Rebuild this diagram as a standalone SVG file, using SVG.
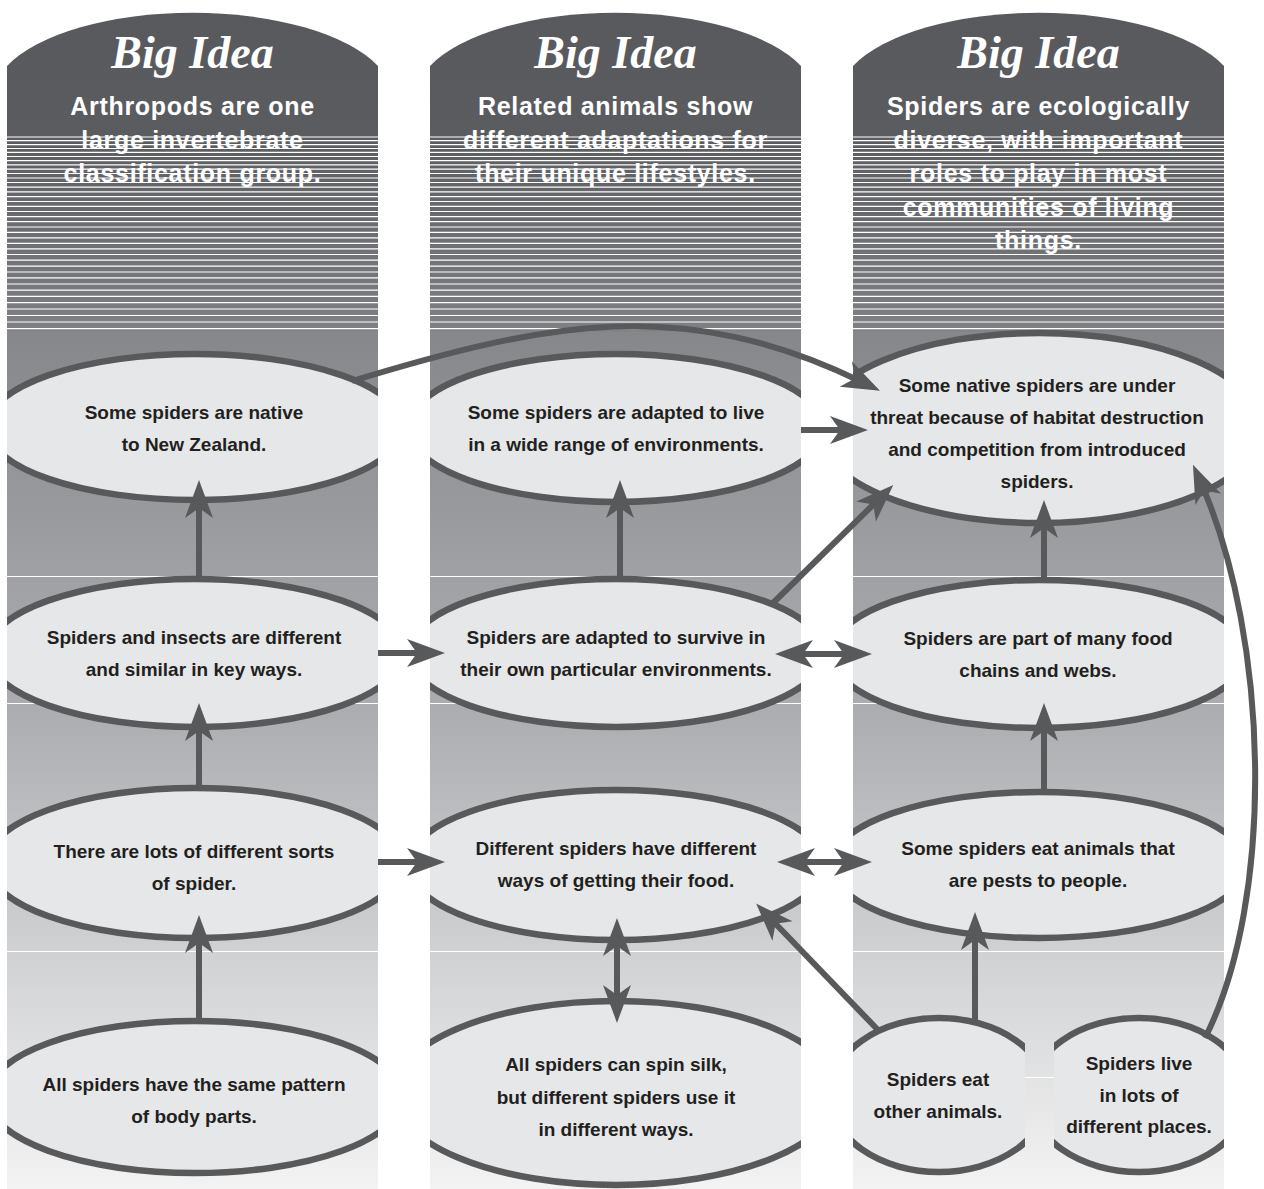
<svg xmlns="http://www.w3.org/2000/svg" xmlns:xlink="http://www.w3.org/1999/xlink" width="1264" height="1189" viewBox="0 0 1264 1189">
<style>
.col{fill:url(#colgrad)}
.band{stroke:#ffffff;stroke-width:1.2}
.bi{font-family:"Liberation Serif",serif;font-style:italic;font-weight:bold;font-size:46px;fill:#ffffff;text-anchor:middle}
.sub{font-family:"Liberation Sans",Arial,sans-serif;font-weight:bold;font-size:25px;fill:#ffffff;text-anchor:middle;letter-spacing:0.7px}
.nd{fill:#e6e7e8;stroke:#58595b;stroke-width:6.5}
.tx{font-family:"Liberation Sans",Arial,sans-serif;font-weight:bold;font-size:19px;fill:#231f20;text-anchor:middle}
.cn{fill:none;stroke:#58595b;stroke-width:6}
</style>
<defs>
<linearGradient id="colgrad" gradientUnits="userSpaceOnUse" x1="0" y1="0" x2="0" y2="1189">
<stop offset="0" stop-color="#58595d"/>
<stop offset="0.1135" stop-color="#5b5c60"/>
<stop offset="0.2775" stop-color="#7f8084"/>
<stop offset="0.2795" stop-color="#86878b"/>
<stop offset="0.4844" stop-color="#a0a1a5"/>
<stop offset="0.5913" stop-color="#abacaf"/>
<stop offset="0.7998" stop-color="#d0d1d3"/>
<stop offset="1" stop-color="#f3f3f3"/>
</linearGradient>
<clipPath id="c1"><rect x="7" y="0" width="371" height="1189"/></clipPath>
<clipPath id="c2"><rect x="430" y="0" width="371" height="1189"/></clipPath>
<clipPath id="c3"><rect x="853" y="0" width="371" height="1189"/></clipPath>
<clipPath id="c3a"><rect x="853" y="940" width="172" height="249"/></clipPath>
<clipPath id="c3b"><rect x="1054" y="940" width="170" height="249"/></clipPath>
<marker id="ah" viewBox="-40 -16 42 32" markerWidth="42" markerHeight="32" refX="-20" refY="0" markerUnits="userSpaceOnUse" orient="auto-start-reverse">
<path d="M0,0 L-38,-14 L-28,0 L-38,14 Z" fill="#58595b"/>
</marker>
<g id="stripes" class="band">
<line x1="0" x2="371" y1="137" y2="137"/><line x1="0" x2="371" y1="140.7" y2="140.7"/><line x1="0" x2="371" y1="144.6" y2="144.6"/><line x1="0" x2="371" y1="148.5" y2="148.5"/><line x1="0" x2="371" y1="152.4" y2="152.4"/><line x1="0" x2="371" y1="156.5" y2="156.5"/><line x1="0" x2="371" y1="160.6" y2="160.6"/><line x1="0" x2="371" y1="164.9" y2="164.9"/><line x1="0" x2="371" y1="169.2" y2="169.2"/><line x1="0" x2="371" y1="173.5" y2="173.5"/><line x1="0" x2="371" y1="178" y2="178"/><line x1="0" x2="371" y1="182.5" y2="182.5"/><line x1="0" x2="371" y1="187.2" y2="187.2"/><line x1="0" x2="371" y1="191.9" y2="191.9"/><line x1="0" x2="371" y1="196.6" y2="196.6"/><line x1="0" x2="371" y1="201.5" y2="201.5"/><line x1="0" x2="371" y1="206.4" y2="206.4"/><line x1="0" x2="371" y1="211.5" y2="211.5"/><line x1="0" x2="371" y1="216.6" y2="216.6"/><line x1="0" x2="371" y1="221.7" y2="221.7"/><line x1="0" x2="371" y1="227" y2="227"/><line x1="0" x2="371" y1="232.3" y2="232.3"/><line x1="0" x2="371" y1="237.8" y2="237.8"/><line x1="0" x2="371" y1="243.3" y2="243.3"/><line x1="0" x2="371" y1="248.8" y2="248.8"/><line x1="0" x2="371" y1="254.5" y2="254.5"/><line x1="0" x2="371" y1="260.2" y2="260.2"/><line x1="0" x2="371" y1="266.1" y2="266.1"/><line x1="0" x2="371" y1="272" y2="272"/><line x1="0" x2="371" y1="277.9" y2="277.9"/><line x1="0" x2="371" y1="284" y2="284"/><line x1="0" x2="371" y1="290.1" y2="290.1"/><line x1="0" x2="371" y1="296.4" y2="296.4"/><line x1="0" x2="371" y1="302.7" y2="302.7"/><line x1="0" x2="371" y1="309" y2="309"/><line x1="0" x2="371" y1="315.5" y2="315.5"/><line x1="0" x2="371" y1="322" y2="322"/><line x1="0" x2="371" y1="328.7" y2="328.7"/>
<line x1="0" x2="371" y1="576.5" y2="576.5"/><line x1="0" x2="371" y1="703.5" y2="703.5"/><line x1="0" x2="371" y1="951.5" y2="951.5"/>
</g>
</defs>
<rect width="1264" height="1189" fill="#ffffff"/>
<g id="columns">
<path class="col" d="M7,1189 V66 A200,85 0 0 1 378,66 V1189 Z"/>
<path class="col" d="M430,1189 V66 A200,85 0 0 1 801,66 V1189 Z"/>
<path class="col" d="M853,1189 V66 A200,85 0 0 1 1224,66 V1189 Z"/>
<use xlink:href="#stripes" x="7"/>
<use xlink:href="#stripes" x="430"/>
<use xlink:href="#stripes" x="853"/>
<line class="band" x1="853" x2="1224" y1="1077.5" y2="1077.5"/>
</g>
<g id="header1">
<text class="bi" x="192.5" y="68">Big Idea</text>
<text class="sub" x="192.5" y="115">Arthropods are one</text>
<text class="sub" x="192.5" y="148.5">large invertebrate</text>
<text class="sub" x="192.5" y="182">classification group.</text>
</g>
<g id="header2">
<text class="bi" x="615.5" y="68">Big Idea</text>
<text class="sub" x="615.5" y="115">Related animals show</text>
<text class="sub" x="615.5" y="148.5">different adaptations for</text>
<text class="sub" x="615.5" y="182">their unique lifestyles.</text>
</g>
<g id="header3">
<text class="bi" x="1038.5" y="68">Big Idea</text>
<text class="sub" x="1038.5" y="115">Spiders are ecologically</text>
<text class="sub" x="1038.5" y="148.5">diverse, with important</text>
<text class="sub" x="1038.5" y="182">roles to play in most</text>
<text class="sub" x="1038.5" y="215.5">communities of living</text>
<text class="sub" x="1038.5" y="249">things.</text>
</g>
<g id="n-native">
<ellipse class="nd" clip-path="url(#c1)" cx="195" cy="427" rx="208" ry="73"/>
<text class="tx" x="194" y="419">Some spiders are native</text>
<text class="tx" x="194" y="451">to New Zealand.</text>
</g>
<g id="n-insects">
<ellipse class="nd" clip-path="url(#c1)" cx="195" cy="653" rx="208" ry="74"/>
<text class="tx" x="194" y="644">Spiders and insects are different</text>
<text class="tx" x="194" y="676">and similar in key ways.</text>
</g>
<g id="n-sorts">
<ellipse class="nd" clip-path="url(#c1)" cx="195" cy="863" rx="208" ry="75"/>
<text class="tx" x="194" y="858">There are lots of different sorts</text>
<text class="tx" x="194" y="890">of spider.</text>
</g>
<g id="n-bodyparts">
<ellipse class="nd" clip-path="url(#c1)" cx="195" cy="1097" rx="208" ry="76"/>
<text class="tx" x="194" y="1091">All spiders have the same pattern</text>
<text class="tx" x="194" y="1123">of body parts.</text>
</g>
<g id="n-range">
<ellipse class="nd" clip-path="url(#c2)" cx="616" cy="428" rx="208" ry="74"/>
<text class="tx" x="616" y="419">Some spiders are adapted to live</text>
<text class="tx" x="616" y="451">in a wide range of environments.</text>
</g>
<g id="n-survive">
<ellipse class="nd" clip-path="url(#c2)" cx="616" cy="653" rx="208" ry="74"/>
<text class="tx" x="616" y="644">Spiders are adapted to survive in</text>
<text class="tx" x="616" y="676">their own particular environments.</text>
</g>
<g id="n-food">
<ellipse class="nd" clip-path="url(#c2)" cx="616" cy="865" rx="208" ry="75"/>
<text class="tx" x="616" y="855">Different spiders have different</text>
<text class="tx" x="616" y="887">ways of getting their food.</text>
</g>
<g id="n-silk">
<ellipse class="nd" clip-path="url(#c2)" cx="616" cy="1093" rx="222" ry="92"/>
<text class="tx" x="616" y="1071">All spiders can spin silk,</text>
<text class="tx" x="616" y="1103.5">but different spiders use it</text>
<text class="tx" x="616" y="1136">in different ways.</text>
</g>
<g id="n-threat">
<ellipse class="nd" clip-path="url(#c3)" cx="1039" cy="428" rx="222" ry="95"/>
<text class="tx" x="1037" y="392">Some native spiders are under</text>
<text class="tx" x="1037" y="424">threat because of habitat destruction</text>
<text class="tx" x="1037" y="456">and competition from introduced</text>
<text class="tx" x="1037" y="488">spiders.</text>
</g>
<g id="n-foodchains">
<ellipse class="nd" clip-path="url(#c3)" cx="1039" cy="654" rx="208" ry="74"/>
<text class="tx" x="1038" y="645">Spiders are part of many food</text>
<text class="tx" x="1038" y="677">chains and webs.</text>
</g>
<g id="n-pests">
<ellipse class="nd" clip-path="url(#c3)" cx="1039" cy="865" rx="208" ry="73"/>
<text class="tx" x="1038" y="855">Some spiders eat animals that</text>
<text class="tx" x="1038" y="887">are pests to people.</text>
</g>
<g id="n-eat">
<ellipse class="nd" clip-path="url(#c3a)" cx="939" cy="1095" rx="109" ry="77"/>
<text class="tx" x="938" y="1086">Spiders eat</text>
<text class="tx" x="938" y="1118">other animals.</text>
</g>
<g id="n-live">
<ellipse class="nd" clip-path="url(#c3b)" cx="1139" cy="1095" rx="109" ry="77"/>
<text class="tx" x="1139" y="1070">Spiders live</text>
<text class="tx" x="1139" y="1102">in lots of</text>
<text class="tx" x="1139" y="1133">different places.</text>
</g>
<g id="connectors" class="cn">
<path d="M199,1021 V935" marker-end="url(#ah)"/>
<path d="M199,789 V723" marker-end="url(#ah)"/>
<path d="M199,579 V500" marker-end="url(#ah)"/>
<path d="M378,653 H425" marker-end="url(#ah)"/>
<path d="M378,862 H425" marker-end="url(#ah)"/>
<path d="M352,381 C543,323 682,294 862,382" marker-end="url(#ah)"/>
<path d="M801,430 H848" marker-end="url(#ah)"/>
<path d="M620,579 V500" marker-end="url(#ah)"/>
<path d="M772,604 L879,499" marker-end="url(#ah)"/>
<path d="M795,654 H852" marker-start="url(#ah)" marker-end="url(#ah)"/>
<path d="M797,862 H852" marker-start="url(#ah)" marker-end="url(#ah)"/>
<path d="M617,938 V1003" marker-start="url(#ah)" marker-end="url(#ah)"/>
<path d="M878,1030 L770,918" marker-end="url(#ah)"/>
<path d="M975,1020 V932" marker-end="url(#ah)"/>
<path d="M1044,792 V723" marker-end="url(#ah)"/>
<path d="M1044,580 V520" marker-end="url(#ah)"/>
<path d="M1205,1038 C1275,900 1270,640 1201,483" marker-end="url(#ah)"/>
</g>
</svg>
